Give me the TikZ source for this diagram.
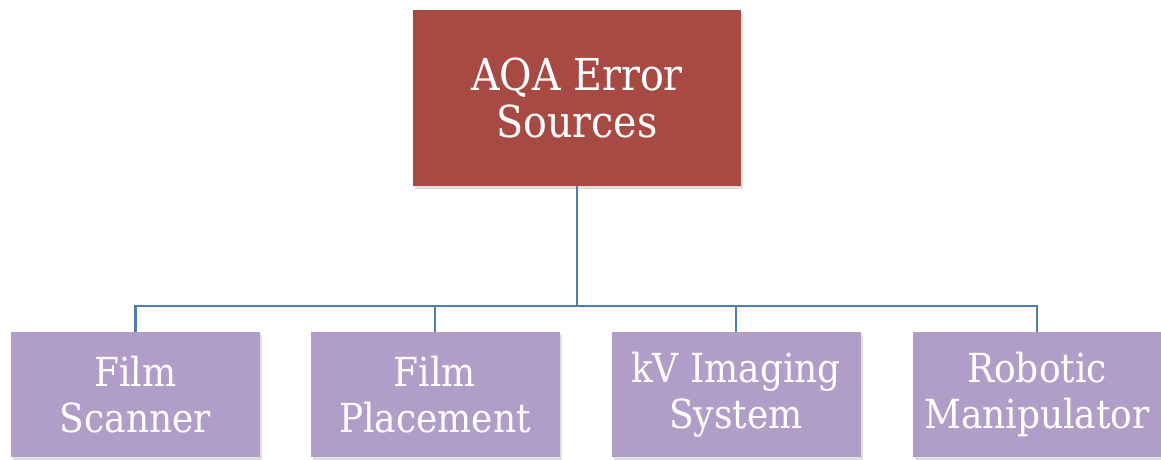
\documentclass[tikz,border=0pt]{standalone}
\usepackage{fontspec}
\setmainfont{DejaVu Serif}
\newfontfamily\boxfont[FakeStretch=0.9]{DejaVu Serif}
\usetikzlibrary{shadows}
\definecolor{rootred}{RGB}{168,74,68}
\definecolor{leafpurple}{RGB}{176,158,200}
\definecolor{linkblue}{RGB}{79,125,176}
\tikzset{
  boxshadow/.style={drop shadow={opacity=0.25,shadow xshift=2pt,shadow yshift=-3pt}},
  rootbox/.style={fill=rootred,draw=none,minimum width=328pt,minimum height=176pt,inner sep=0pt,
    text=white,align=center,font=\boxfont\fontsize{44}{47}\selectfont,boxshadow},
  leafbox/.style={fill=leafpurple,draw=none,minimum width=249pt,minimum height=125pt,inner sep=0pt,
    text=white,align=center,font=\boxfont\fontsize{40}{46}\selectfont,boxshadow},
  link/.style={draw=linkblue,line width=2.5pt}
}
\begin{document}
\begin{tikzpicture}[x=1pt,y=-1pt]
\useasboundingbox (0,0) rectangle (1161,459);
\coordinate (bus) at (577,306);
\coordinate (busL) at (135.5,306);
\coordinate (busR) at (1037,306);
\node[rootbox] (root) at (577,98) {AQA Error\\Sources};
\node[leafbox] (a) at (135.5,394.5) {Film\\Scanner};
\node[leafbox] (b) at (435,394.5) {Film\\Placement};
\node[leafbox] (c) at (736,394.5) {kV Imaging\\System};
\node[leafbox] (d) at (1037,394.5) {Robotic\\Manipulator};
\draw[link] (root.south) -- (bus);
\draw[link] (a.north) -- (busL) -- (busR) -- (d.north);
\draw[link] (bus) -| (b.north);
\draw[link] (bus) -| (c.north);
\end{tikzpicture}
\end{document}
